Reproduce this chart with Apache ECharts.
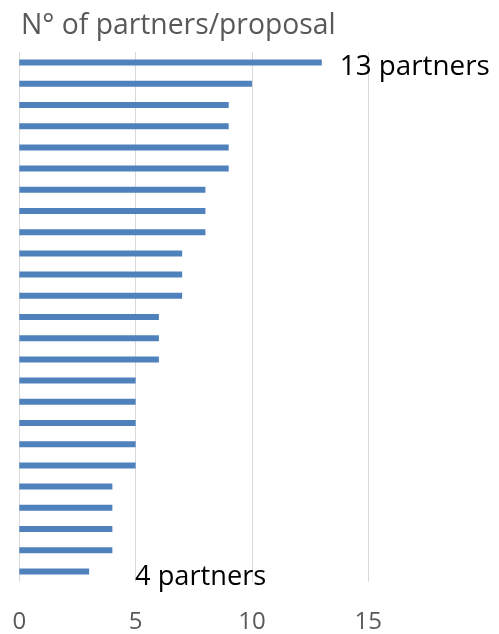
<!DOCTYPE html>
<html><head><meta charset="utf-8">
<script src="https://cdn.jsdelivr.net/npm/echarts@6/dist/echarts.min.js"></script>
<style>html,body{margin:0;padding:0;background:#fff}#c{width:499px;height:634px}</style>
</head><body><div id="c"></div>
<script>
const titleText = "N° of partners/proposal";
const categories = ["P1","P2","P3","P4","P5","P6","P7","P8","P9","P10","P11","P12","P13","P14","P15","P16","P17","P18","P19","P20","P21","P22","P23","P24","P25"];
const partners = [13,10,9,9,9,9,8,8,8,7,7,7,6,6,6,5,5,5,5,5,4,4,4,4,3];
const xTicks = [0,5,10,15];
const annotations = {0: "13 partners", 24: "4 partners"};

const FONT = "Open Sans";
const data = partners.map((v, i) => {
  const item = {value: v};
  if (i === 0) {
    item.label = {show: true, position: 'right', distance: 18, formatter: annotations[0], color: '#000', fontSize: 27.8, fontFamily: FONT, offset: [0, 4]};
  } else if (i === 24) {
    item.label = {show: true, position: 'right', distance: 46, formatter: annotations[24], color: '#000', fontSize: 27.2, fontFamily: FONT, offset: [0, 6]};
  }
  return item;
});

const chart = echarts.init(document.getElementById('c'));
chart.setOption({
  animation: false,
  title: {text: titleText, left: 16, top: 7, textStyle: {color: '#595959', fontSize: 28.3, fontWeight: 'normal', fontFamily: FONT}},
  grid: {left: 19.3, right: 130.7, top: 52, bottom: 51, containLabel: false},
  xAxis: {
    type: 'value', min: xTicks[0], max: xTicks[xTicks.length-1], interval: 5,
    axisLine: {show: false}, axisTick: {show: false},
    splitLine: {show: true, lineStyle: {color: '#d9d9d9', width: 1}},
    axisLabel: {color: '#595959', fontSize: 24, fontFamily: FONT, margin: 28}
  },
  yAxis: {
    type: 'category', data: categories, inverse: true,
    axisLine: {show: false}, axisTick: {show: false}, axisLabel: {show: false}, splitLine: {show: false}
  },
  series: [{
    type: 'bar', data: data, barWidth: 6,
    itemStyle: {color: '#4f81bd'},
    label: {show: false}
  }]
});
</script></body></html>
